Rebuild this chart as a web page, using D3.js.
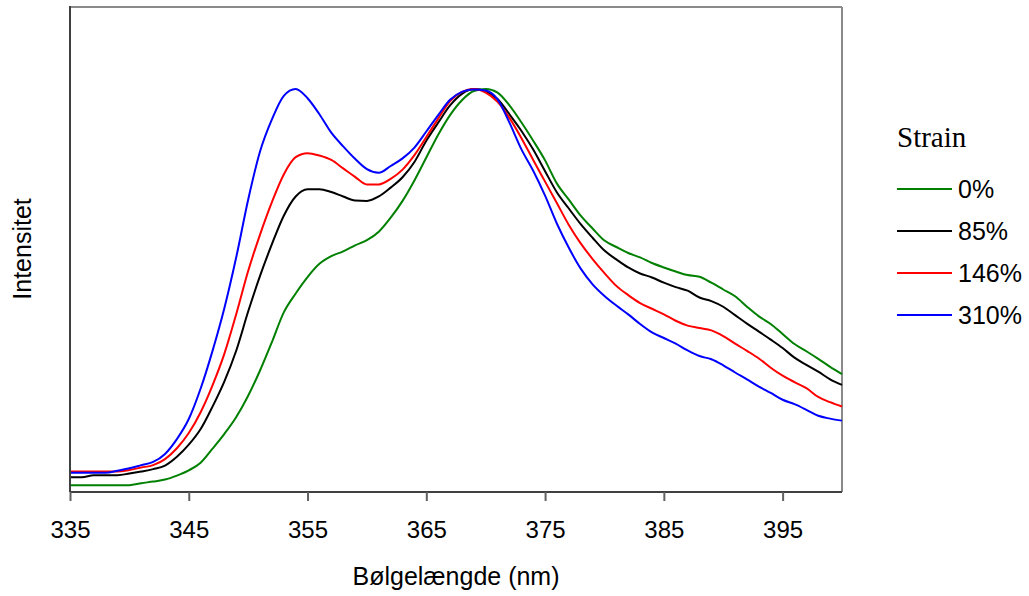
<!DOCTYPE html>
<html>
<head>
<meta charset="utf-8">
<script src="https://cdn.jsdelivr.net/npm/d3@7"></script>
<style>
  html, body { margin: 0; padding: 0; background: #fff; }
  svg { display: block; }
</style>
</head>
<body>
<svg id="chart" width="1029" height="596"></svg>
<script>
// ---- data ----
const wavelengths = d3.range(335, 401); // 335..400 nm, 1 nm step
const tickValues = [335, 345, 355, 365, 375, 385, 395];
const seriesNames = ["0%", "85%", "146%", "310%"];
const seriesColors = ["#008000", "#000000", "#ff0000", "#0000ff"];

const strain0 = [
  0.012,0.012,0.012,0.012,0.012,0.012,0.017,0.021,0.026,0.036,
  0.049,0.068,0.103,0.140,0.182,0.235,0.298,0.369,0.443,0.490,
  0.531,0.564,0.583,0.595,0.610,0.623,0.644,0.679,0.721,0.772,
  0.829,0.886,0.935,0.972,0.995,1.000,0.991,0.959,0.917,0.871,
  0.822,0.764,0.724,0.684,0.652,0.622,0.606,0.591,0.580,0.566,
  0.555,0.545,0.536,0.532,0.517,0.500,0.483,0.457,0.433,0.414,
  0.389,0.364,0.346,0.327,0.307,0.289
];
const strain85 = [
  0.032,0.032,0.037,0.037,0.037,0.041,0.046,0.052,0.061,0.083,
  0.113,0.152,0.208,0.271,0.348,0.445,0.534,0.613,0.684,0.732,
  0.750,0.750,0.743,0.732,0.722,0.721,0.732,0.754,0.780,0.818,
  0.871,0.916,0.959,0.988,1.000,0.994,0.975,0.937,0.896,0.849,
  0.795,0.742,0.702,0.663,0.629,0.597,0.575,0.555,0.540,0.530,
  0.517,0.506,0.497,0.480,0.471,0.457,0.436,0.415,0.395,0.375,
  0.354,0.330,0.312,0.295,0.276,0.262
];
const strain146 = [
  0.046,0.046,0.046,0.046,0.046,0.050,0.056,0.062,0.077,0.104,
  0.142,0.194,0.261,0.340,0.439,0.546,0.637,0.718,0.787,0.830,
  0.840,0.834,0.823,0.802,0.781,0.762,0.762,0.776,0.799,0.835,
  0.880,0.926,0.970,0.993,1.000,0.991,0.968,0.928,0.878,0.823,
  0.769,0.715,0.661,0.615,0.576,0.541,0.509,0.486,0.466,0.452,
  0.438,0.422,0.410,0.404,0.398,0.384,0.365,0.347,0.328,0.305,
  0.285,0.269,0.254,0.232,0.219,0.208
];
const strain310 = [
  0.043,0.043,0.043,0.043,0.048,0.054,0.062,0.070,0.090,0.127,
  0.177,0.253,0.347,0.454,0.581,0.724,0.844,0.924,0.983,1.000,
  0.977,0.937,0.891,0.857,0.826,0.800,0.791,0.808,0.827,0.854,
  0.894,0.935,0.973,0.993,0.999,0.996,0.974,0.916,0.850,0.796,
  0.734,0.664,0.604,0.552,0.513,0.484,0.460,0.438,0.414,0.393,
  0.379,0.365,0.348,0.334,0.326,0.311,0.293,0.276,0.258,0.242,
  0.225,0.214,0.200,0.185,0.178,0.173
];
const seriesValues = [strain0, strain85, strain146, strain310];

// ---- layout ----
const svg = d3.select("#chart");
const plot = { left: 70, right: 842, top: 7, bottom: 492 };

const x = d3.scaleLinear().domain([335, 400]).range([plot.left, plot.right]);
const y = d3.scaleLinear().domain([-0.005, 1.2]).range([plot.bottom, plot.top + 1.8]);

// frame: top & right gray
svg.append("line").attr("x1", plot.left).attr("x2", plot.right).attr("y1", plot.top).attr("y2", plot.top)
  .attr("stroke", "#8a8a8a").attr("stroke-width", 2);
svg.append("line").attr("x1", plot.right).attr("x2", plot.right).attr("y1", plot.top).attr("y2", plot.bottom)
  .attr("stroke", "#8a8a8a").attr("stroke-width", 2);

// series lines
const line = d3.line().x(d => x(d[0])).y(d => y(d[1])).curve(d3.curveMonotoneX);
const g = svg.append("g");
seriesValues.forEach((vals, i) => {
  const pts = wavelengths.map((w, j) => [w, vals[j]]);
  g.append("path").datum(pts)
    .attr("fill", "none")
    .attr("stroke", seriesColors[i])
    .attr("stroke-width", 2)
    .attr("stroke-linejoin", "round")
    .attr("d", line);
});

// left axis line
svg.append("line").attr("x1", plot.left).attr("x2", plot.left).attr("y1", plot.top - 1).attr("y2", plot.bottom)
  .attr("stroke", "#404040").attr("stroke-width", 2);

// bottom axis
const xAxis = d3.axisBottom(x).tickValues(tickValues).tickSize(9).tickPadding(20).tickFormat(d3.format("d"));
const ax = svg.append("g").attr("transform", `translate(0,${plot.bottom})`).call(xAxis);
ax.select(".domain").attr("stroke", "#404040").attr("stroke-width", 2)
  .attr("d", `M${plot.left},0H${plot.right}`);
ax.selectAll(".tick line").attr("stroke", "#606060").attr("stroke-width", 2);
ax.selectAll(".tick text")
  .attr("fill", "#000")
  .style("font-family", "'Liberation Sans', Arial, sans-serif")
  .style("font-size", "24px");

// axis titles
svg.append("text")
  .attr("x", 456).attr("y", 585)
  .attr("text-anchor", "middle")
  .style("font-family", "'Liberation Sans', Arial, sans-serif")
  .style("font-size", "25px")
  .text("Bølgelængde (nm)");

svg.append("text")
  .attr("transform", "translate(31,249) rotate(-90)")
  .attr("text-anchor", "middle")
  .style("font-family", "'Liberation Sans', Arial, sans-serif")
  .style("font-size", "25px")
  .text("Intensitet");

// legend
svg.append("text")
  .attr("x", 897).attr("y", 147)
  .style("font-family", "'Liberation Serif', 'Times New Roman', serif")
  .style("font-size", "29px")
  .text("Strain");

const legendY = d3.scalePoint().domain(seriesNames).range([189, 315]);
seriesNames.forEach((name, i) => {
  const ly = legendY(name);
  svg.append("line").attr("x1", 897).attr("x2", 952).attr("y1", ly).attr("y2", ly)
    .attr("stroke", seriesColors[i]).attr("stroke-width", 2);
  svg.append("text")
    .attr("x", 958).attr("y", ly + 9)
    .style("font-family", "'Liberation Sans', Arial, sans-serif")
    .style("font-size", "25px")
    .text(name);
});
</script>
</body>
</html>
